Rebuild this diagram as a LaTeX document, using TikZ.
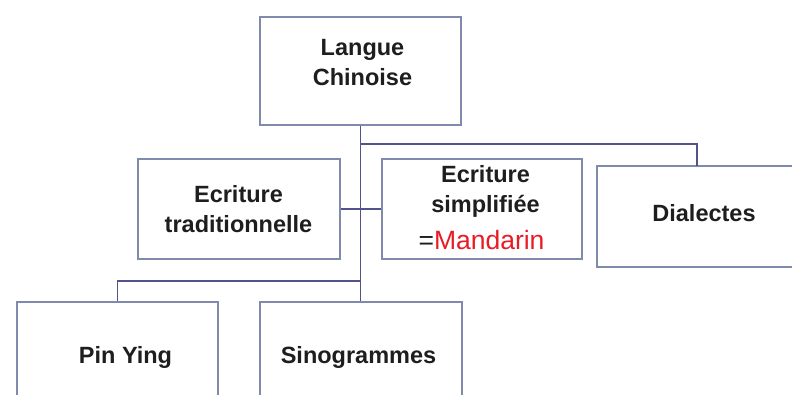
\documentclass[tikz,border=0pt]{standalone}
\usepackage{fontspec}
\setmainfont{Liberation Sans}
\definecolor{boxline}{RGB}{128,138,172}
\definecolor{linkline}{RGB}{82,82,140}
\definecolor{redtext}{RGB}{232,28,36}
\definecolor{labeltext}{RGB}{30,30,30}
\begin{document}
\begin{tikzpicture}[x=1pt,y=-1pt,
  box/.style={draw=boxline,line width=1.1pt,fill=white,inner sep=0pt},
  lbl/.style={anchor=base,inner sep=0pt,text=labeltext,
    font=\fontsize{23.5}{28}\selectfont\bfseries},
  lblred/.style={anchor=base,inner sep=0pt,text=labeltext,
    font=\fontsize{26.5}{30}\selectfont},
  conn/.style={draw=linkline,line width=1.1pt}]
\clip (0,0) rectangle (792,395);
\fill[white] (0,0) rectangle (792,395);

% boxes
\node[box,minimum width=201pt,minimum height=108pt] (top) at (360.5,71) {};
\node[box,minimum width=202pt,minimum height=100pt] (trad) at (239,209) {};
\node[box,minimum width=200pt,minimum height=100pt] (simp) at (482,209) {};
\node[box,minimum width=212pt,minimum height=101pt] (dial) at (703,216.5) {};
\node[box,minimum width=201pt,minimum height=106pt] (pin) at (117.5,355) {};
\node[box,minimum width=202pt,minimum height=106pt] (sino) at (361,355) {};

% box labels, one line each, placed on their baselines
\node[lbl] (top-a) at (362.5,56) {Langue};
\node[lbl] (top-b) at (362.5,86) {Chinoise};
\node[lbl] (trad-a) at (238.5,203) {Ecriture};
\node[lbl] (trad-b) at (238.5,233) {traditionnelle};
\node[lbl] (simp-a) at (485.5,183) {Ecriture};
\node[lbl] (simp-b) at (485.5,213) {simplifiée};
\node[lblred] (simp-c) at (481.5,250) {=\textcolor{redtext}{Mandarin}};
\node[lbl] (dial-a) at (704,222) {Dialectes};
\node[lbl] (pin-a) at (125.5,363) {Pin Ying};
\node[lbl] (sino-a) at (358.5,363) {Sinogrammes};

% junctions on the trunk
\coordinate (jdial) at (360.5,144);
\coordinate (jpin) at (360.5,281);
\coordinate (dialtop) at (697,166);

% connectors
\draw[conn] (top.south) -- (top.south |- sino.north);
\draw[conn] (jdial) -| (dialtop);
\draw[conn] (trad.east) -- (simp.west);
\draw[conn] (jpin) -| (pin.north);
\end{tikzpicture}
\end{document}
